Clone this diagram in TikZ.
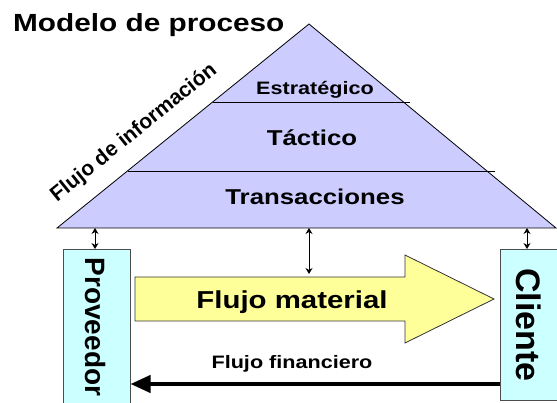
\documentclass[tikz,border=0pt]{standalone}
\usepackage{fontspec}
\usetikzlibrary{arrows.meta}
\newfontfamily\hfont{Liberation Sans}[FakeStretch=1.2]
\newfontfamily\vfont{Liberation Sans}
\definecolor{pyr}{HTML}{CCCCFF}
\definecolor{boxc}{HTML}{CCFFFF}
\definecolor{arrc}{HTML}{FFFF99}
\tikzset{
  lbl/.style={inner sep=0pt, font=\hfont\bfseries},
  vlbl/.style={inner sep=0pt, font=\vfont\bfseries, rotate=-90},
  actor/.style={draw=black!70, line width=0.8pt, fill=boxc, anchor=north west, inner sep=0pt},
  small/.style={{Stealth[length=6pt,width=7pt]}-{Stealth[length=6pt,width=7pt]}, line width=0.8pt},
}
\begin{document}
\begin{tikzpicture}[x=1pt,y=-1pt]
\useasboundingbox (0,0) rectangle (557,403);
% pyramid
\coordinate (bl) at (57,228);
\coordinate (top) at (309,24);
\coordinate (br) at (556,228);
\draw[fill=pyr, line width=0.8pt] (bl) -- (top) -- (br) -- cycle;
\coordinate (l1a) at (213,102); \coordinate (l1b) at (410,102);
\coordinate (l2a) at (128,171); \coordinate (l2b) at (495,171);
\draw[line width=0.8pt] (l1a) -- (l1b);
\draw[line width=0.8pt] (l2a) -- (l2b);
\node[lbl, anchor=base west, font=\hfont\bfseries\fontsize{24.8}{28}\selectfont] (title) at (13,32) {Modelo de proceso};
\node[lbl, anchor=base, font=\hfont\bfseries\fontsize{18}{22}\selectfont] (est) at (315,95) {Estratégico};
\node[lbl, anchor=base, font=\hfont\bfseries\fontsize{21.5}{25}\selectfont] (tac) at (312,146) {Táctico};
\node[lbl, anchor=base, font=\hfont\bfseries\fontsize{21.5}{25}\selectfont] (tra) at (315,205) {Transacciones};
\node[inner sep=0pt, font=\vfont\bfseries\fontsize{21}{24}\selectfont, rotate=39] (info) at (134,133) {Flujo de información};
% actors
\node[actor, minimum width=67pt, minimum height=170pt] (prov) at (63,249) {};
\node[actor, minimum width=70pt, minimum height=151pt] (cli) at (500,249) {};
\node[vlbl, font=\vfont\bfseries\fontsize{28}{32}\selectfont] (provt) at (96,327) {Proveedor};
\node[vlbl, font=\vfont\bfseries\fontsize{34}{38}\selectfont] (clit) at (529,325) {Cliente};
% small arrows
\coordinate (a1t) at (95,228); \coordinate (a1b) at (95,249);
\coordinate (a2t) at (309,228); \coordinate (a2b) at (309,274);
\coordinate (a3t) at (527,228); \coordinate (a3b) at (527,249);
\draw[small] (a1t) -- (a1b);
\draw[small] (a2t) -- (a2b);
\draw[small] (a3t) -- (a3b);
% material flow arrow
\draw[fill=arrc, draw=black!80, line width=0.8pt] (135,277) -- (405,277) -- (405,255) -- (494,299) -- (405,343) -- (405,321) -- (135,321) -- cycle;
\node[lbl, anchor=base, font=\hfont\bfseries\fontsize{24.5}{28}\selectfont] (mat) at (292,309) {Flujo material};
% financial flow
\node[lbl, anchor=base, font=\hfont\bfseries\fontsize{18}{22}\selectfont] (fin) at (292,368) {Flujo financiero};
\coordinate (fs) at (500,384);
\coordinate (fe) at (130.5,384);
\draw[line width=4pt, -{Triangle[length=20pt,width=17pt]}] (fs) -- (fe);
\end{tikzpicture}
\end{document}
